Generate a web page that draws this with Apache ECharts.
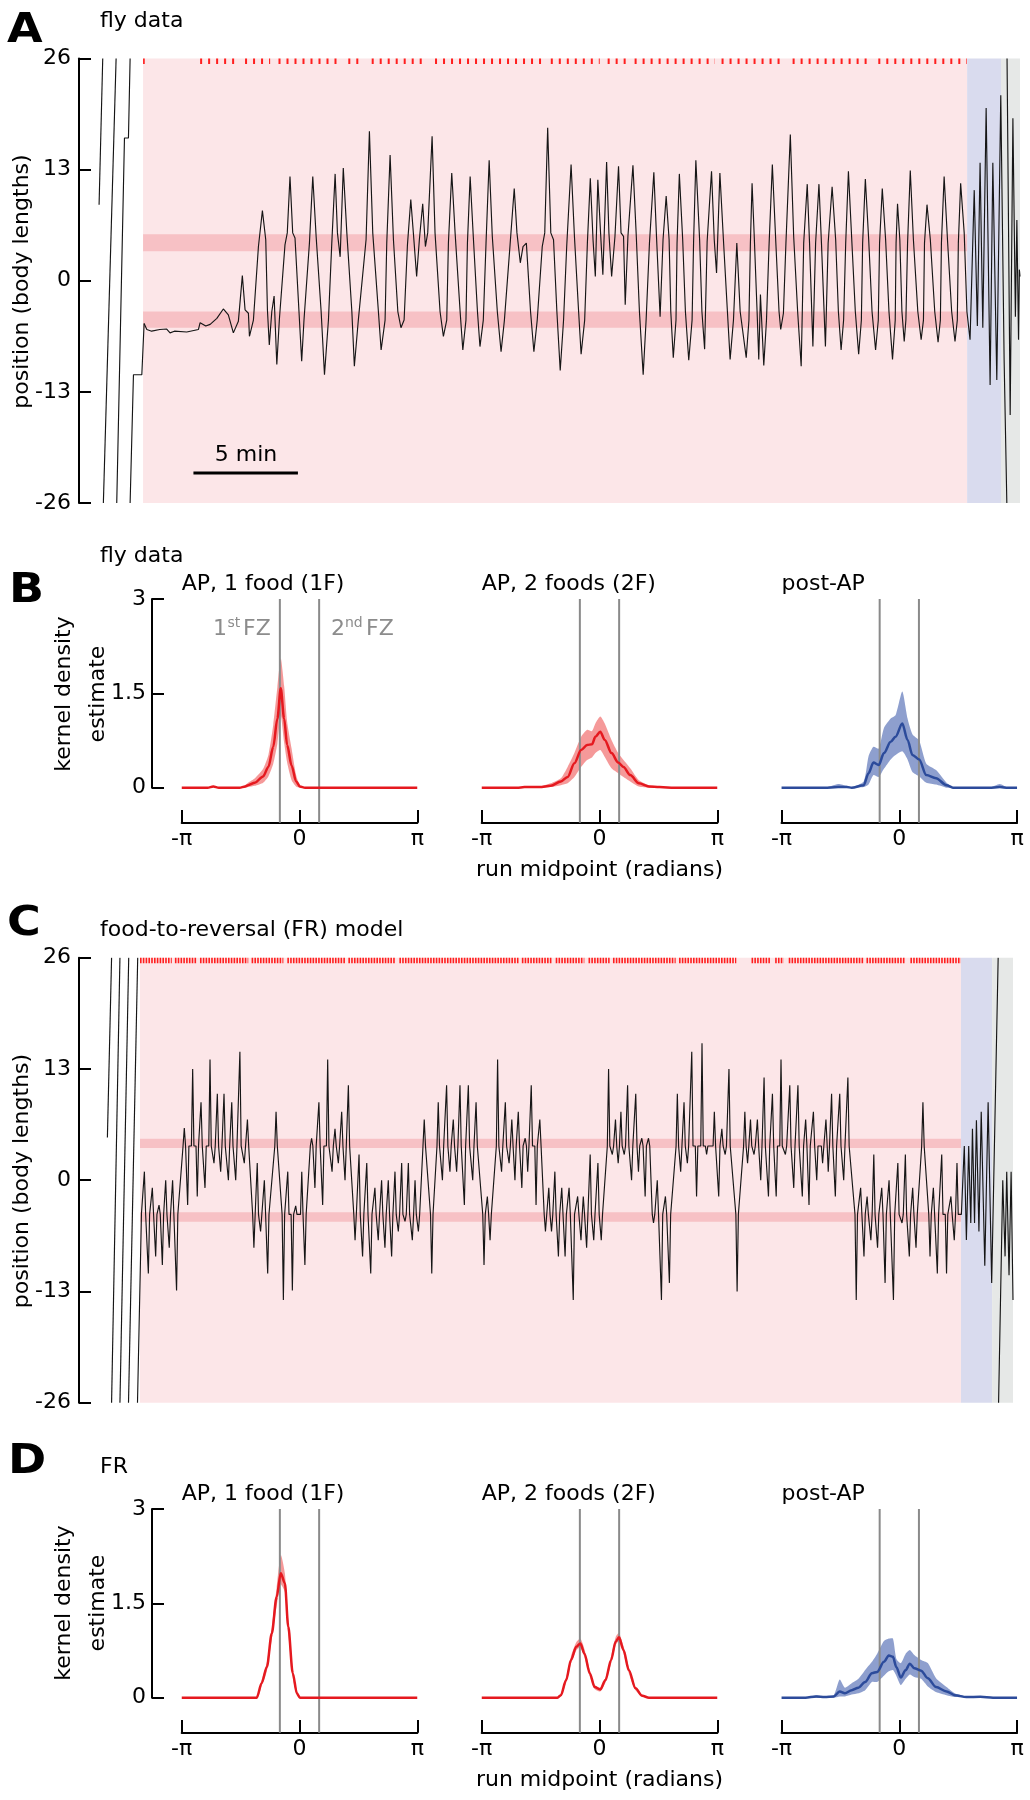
<!DOCTYPE html>
<html><head><meta charset="utf-8">
<script src="https://cdn.jsdelivr.net/npm/echarts@6/dist/echarts.min.js"></script>
<style>html,body{margin:0;padding:0;background:#fff}#c{width:1030px;height:1800px}</style>
</head><body><div id="c"></div>
<script>
// ---------------- DATA ----------------
// Panel A: fly data, time (min), position (body lengths)
const posTicks = [-26, -13, 0, 13, 26];
const flyEpochs = [0, 39.43, 41.05, 41.96];          // AP start, post-AP start, end-phase start, end
const flyBands = [[3.45, 5.45], [-5.5, -3.6]];       // food zones
const flyPreAP = [
  [[-2.105, 8.9], [-1.93, 26]],
  [[-1.90, -26], [-1.29, 26]],
  [[-1.26, -26], [-0.89, 16.7], [-0.70, 16.7], [-0.62, 26]],
  [[-0.62, -26], [-0.46, -11.0], [-0.06, -11.0], [0.05, -5.0]]
];
const flyTrace = [
 [0.05,-5.0],[0.18,-5.7],[0.41,-5.9],[0.80,-5.7],[1.13,-5.65],[1.29,-6.1],[1.50,-5.9],[2.09,-6.0],[2.65,-5.7],[2.73,-4.9],
 [3.00,-5.3],[3.21,-5.1],[3.53,-4.4],[3.84,-3.3],[4.08,-4.0],[4.32,-6.1],[4.56,-4.75],[4.75,0.6],[4.88,-3.4],[5.04,-3.8],
 [5.09,-6.5],[5.28,-4.6],[5.52,4.0],[5.71,8.2],[5.87,4.8],[5.95,-3.4],[6.04,-7.5],[6.16,-3.6],[6.27,-1.8],[6.40,-9.8],
 [6.52,-4.6],[6.79,4.2],[6.90,5.6],[7.03,12.2],[7.16,5.6],[7.27,5.0],[7.46,-3.6],[7.59,-9.4],[7.70,-4.6],[7.96,4.4],
 [8.12,12.2],[8.28,5.2],[8.52,-3.6],[8.68,-11.0],[8.87,-4.6],[9.03,4.4],[9.19,12.5],[9.30,5.6],[9.43,2.8],[9.58,13.2],
 [9.75,5.6],[9.99,-3.6],[10.11,-10.0],[10.30,-4.6],[10.67,4.8],[10.83,17.5],[10.99,5.6],[11.26,-3.6],[11.39,-8.1],[11.58,-4.6],
 [11.66,4.4],[11.82,14.7],[11.98,4.8],[12.19,-3.6],[12.34,-5.5],[12.49,-4.6],[12.65,4.2],[12.81,9.5],[12.97,4.4],[13.09,0.5],
 [13.22,4.8],[13.38,9.0],[13.51,4.0],[13.62,5.6],[13.83,16.9],[13.97,5.6],[14.21,-3.6],[14.37,-6.5],[14.53,-4.6],[14.61,4.4],
 [14.77,12.6],[14.93,5.6],[15.17,-3.6],[15.30,-8.1],[15.45,-4.6],[15.52,4.4],[15.65,12.2],[15.80,5.2],[16.00,-3.6],[16.12,-7.7],
 [16.28,-4.6],[16.41,4.4],[16.56,14.1],[16.71,5.2],[16.95,-3.6],[17.13,-8.3],[17.29,-4.6],[17.56,4.2],[17.76,10.8],[17.89,5.6],
 [18.05,2.1],[18.18,4.0],[18.34,4.4],[18.54,-3.6],[18.70,-8.3],[18.86,-4.6],[19.10,4.0],[19.22,5.6],[19.36,17.9],[19.51,5.6],
 [19.64,4.8],[19.80,-3.6],[19.96,-10.5],[20.12,-4.6],[20.27,4.0],[20.48,13.6],[20.64,5.2],[20.84,-3.6],[20.96,-8.6],[21.13,-4.6],
 [21.26,4.4],[21.40,12.0],[21.53,4.8],[21.64,0.5],[21.76,11.8],[21.89,5.6],[22.00,0.7],[22.18,13.9],[22.29,5.6],[22.42,0.5],
 [22.58,5.2],[22.75,13.4],[22.87,5.6],[22.99,5.2],[23.07,-2.8],[23.20,5.2],[23.44,13.5],[23.60,5.2],[23.75,-3.6],[23.93,-11.0],
 [24.07,-4.6],[24.23,4.4],[24.44,12.7],[24.57,5.0],[24.74,-4.2],[24.88,4.8],[25.03,9.9],[25.17,4.8],[25.25,-3.6],[25.37,-9.0],
 [25.50,-4.6],[25.55,4.4],[25.66,12.5],[25.82,4.8],[25.95,-3.6],[26.11,-9.3],[26.27,-4.6],[26.34,4.4],[26.45,14.1],[26.63,4.8],
 [26.74,-3.6],[26.87,-8.0],[26.99,4.6],[27.20,12.8],[27.33,4.8],[27.44,0.9],[27.60,12.6],[27.76,5.2],[27.96,-3.6],[28.09,-9.2],
 [28.25,-4.6],[28.41,4.4],[28.57,-3.6],[28.86,-9.0],[28.99,-4.6],[29.06,4.4],[29.14,11.4],[29.25,4.8],[29.38,-3.6],[29.46,-9.2],
 [29.54,-1.6],[29.70,-9.9],[29.83,-4.6],[29.95,4.0],[30.11,13.6],[30.27,4.8],[30.43,-3.6],[30.51,-5.7],[30.64,-3.8],[30.76,4.4],
 [30.97,17.1],[31.13,5.2],[31.32,-3.6],[31.49,-10.0],[31.61,4.4],[31.78,11.3],[31.89,4.4],[32.05,-7.7],[32.18,4.4],[32.34,11.3],
 [32.46,4.4],[32.65,-7.7],[32.78,4.4],[32.97,11.0],[33.14,4.8],[33.27,-3.6],[33.40,-8.1],[33.52,-4.6],[33.62,4.4],[33.75,12.8],
 [33.91,4.8],[34.08,-3.6],[34.24,-8.6],[34.37,-4.6],[34.43,4.4],[34.56,11.9],[34.72,4.8],[34.88,-3.6],[35.05,-8.1],[35.18,-4.6],
 [35.24,4.4],[35.37,10.8],[35.53,4.8],[35.69,-3.6],[35.86,-9.2],[35.99,-4.6],[36.03,4.4],[36.10,9.0],[36.21,4.8],[36.31,-3.6],
 [36.42,-7.1],[36.50,-4.6],[36.58,4.4],[36.71,12.9],[36.86,4.8],[37.07,-3.6],[37.23,-6.9],[37.34,-4.6],[37.39,4.4],[37.51,8.9],
 [37.67,4.8],[37.88,-3.6],[38.04,-7.2],[38.15,-4.6],[38.20,4.4],[38.33,12.2],[38.49,4.8],[38.69,-3.6],[38.85,-7.1],[38.96,-4.6],
 [39.01,4.4],[39.12,11.4],[39.29,5.6],[39.42,-3.6],[39.57,-6.9],[39.77,10.6],[39.92,-5.3],[40.05,13.8],[40.18,-5.5],[40.34,20.2],
 [40.53,-12.2],[40.66,13.8],[40.85,-11.6],[41.04,21.7],[41.20,-9.2],[41.33,-26]
];
const flyTail = [[41.34,26],[41.49,-15.7],[41.62,19.0],[41.74,-4.2],[41.81,7.1],[41.89,-6.9],[41.93,1.3],[41.96,0.5]];
const flyFoodRuns = [[0,0.08],[2.73,4.64],[4.88,6.08],[6.48,9.27],[9.82,10.46],[10.94,13.57],[13.97,19.18],[19.51,21.85],
  [22.23,23.23],[23.52,27.36],[27.68,30.68],[31.08,34.80],[35.18,39.42]];
const scaleBarT = [2.41, 7.41], scaleBarY = -22.5;

// Panel C: food-to-reversal model
const frEpochs = [0, 39.28, 40.77, 41.77];
const frBands = [[3.75, 4.85], [-4.85, -3.75]];
const frLevels = {up: 4.0, down: -4.0};
const frPreAP = [
  [[-1.56, 5.0], [-1.36, 26]],
  [[-1.36, -26], [-0.96, 26]],
  [[-0.96, -26], [-0.54, 26]],
  [[-0.55, -26], [-0.11, 26]]
];
const frEntry = [[-0.12, -26], [0.07, -3.9]];
// spikes: [time, tip value, plateau side (+1 upper food, -1 lower food)]
const frSpikes = [
 [0.21,1.0,-1],[0.40,-10.9,-1],[0.59,-0.9,-1],[0.75,-8.9,-1],[0.91,-2.9,-1],[1.07,-9.9,-1],[1.23,0.0,-1],[1.40,-7.9,-1],[1.56,0.0,-1],[1.75,-12.9,-1],
 [2.12,6.1,1],[2.28,-2.9,1],[2.52,13.0,1],[2.74,-1.9,1],[2.92,9.1,1],[3.11,-0.9,1],[3.35,14.1,1],[3.54,2.0,1],[3.70,10.1,1],[3.86,1.0,1],
 [4.02,10.1,1],[4.23,0.0,1],[4.39,9.1,1],[4.58,0.0,1],[4.78,15.0,1],[4.99,2.0,1],[5.14,7.1,1],
 [5.45,-7.9,-1],[5.61,2.0,-1],[5.77,-6.0,-1],[5.95,0.0,-1],[6.11,-10.9,-1],
 [6.51,8.0,1],
 [6.86,-14.0,-1],[7.07,1.0,-1],[7.29,-12.9,-1],[7.45,-3.0,-1],[7.74,1.0,-1],[7.89,-9.9,-1],
 [8.21,4.9,1],[8.37,-0.9,1],[8.56,9.1,1],[8.74,-2.9,1],[8.98,14.1,1],[9.19,1.0,1],[9.33,6.0,1],[9.49,2.0,1],[9.65,8.0,1],[9.81,0.0,1],[9.97,11.1,1],
 [10.29,-7.0,-1],[10.48,3.0,-1],[10.65,-8.9,-1],[10.85,2.0,-1],[11.04,-10.9,-1],[11.24,-0.9,-1],[11.40,-7.0,-1],[11.56,0.0,-1],[11.72,-7.9,-1],
 [11.88,0.0,-1],[12.04,-8.9,-1],[12.20,1.0,-1],[12.36,-6.0,-1],[12.52,2.0,-1],[12.68,-4.8,-1],[12.84,2.0,-1],[13.03,-7.0,-1],[13.16,0.0,-1],[13.32,-6.0,-1],
 [13.60,7.1,1],
 [13.96,-10.9,-1],
 [14.27,9.1,1],[14.47,0.0,1],[14.67,11.1,1],[14.83,1.0,1],[14.99,7.1,1],[15.15,1.0,1],[15.31,11.1,1],[15.52,-2.9,1],[15.71,11.1,1],[15.92,0.0,1],[16.08,9.1,1],
 [16.46,-9.9,-1],[16.62,-1.9,-1],[16.75,-7.0,-1],
 [17.11,14.1,1],[17.30,1.0,1],[17.48,9.1,1],[17.66,2.0,1],[17.79,7.1,1],[17.94,0.0,1],[18.10,8.0,1],[18.27,-0.9,1],[18.43,4.9,1],[18.55,1.0,1],
 [18.72,11.1,1],[18.95,-2.9,1],[19.13,7.1,1],
 [19.40,-6.0,-1],[19.56,-0.9,-1],[19.69,-6.0,-1],[19.85,1.0,-1],[20.02,-8.9,-1],[20.18,-0.9,-1],[20.34,-8.9,-1],[20.53,-0.9,-1],[20.73,-14.0,-1],
 [20.94,-1.9,-1],[21.10,-7.0,-1],[21.21,-1.9,-1],[21.37,-7.9,-1],[21.54,3.0,-1],[21.71,-7.0,-1],[21.91,2.0,-1],[22.07,-7.0,-1],
 [22.42,13.0,1],[22.60,3.0,1],[22.75,7.1,1],[22.88,2.0,1],[23.01,8.0,1],[23.17,3.0,1],[23.33,11.1,1],[23.52,0.0,1],[23.72,10.1,1],[23.85,1.0,1],
 [24.01,4.9,1],[24.17,-1.9,1],[24.33,4.9,1],
 [24.57,-5.0,-1],[24.75,0.0,-1],[24.95,-14.0,-1],[25.14,-1.9,-1],[25.33,-12.0,-1],
 [25.71,10.1,1],[25.87,1.0,1],[26.03,9.1,1],[26.19,2.0,1],[26.40,15.0,1],[26.63,-1.9,1],[26.89,16.0,1],[27.11,3.0,1],[27.48,8.0,1],[27.69,-1.9,1],
 [27.84,6.0,1],[28.00,3.0,1],[28.18,13.0,1],
 [28.57,-13.0,-1],
 [28.94,8.0,1],[29.07,2.0,1],[29.21,7.1,1],[29.38,3.0,1],[29.54,7.1,1],[29.70,0.0,1],[29.86,12.0,1],[30.07,-1.9,1],[30.26,10.1,1],[30.44,-1.9,1],
 [30.67,14.1,1],[30.88,3.0,1],[31.09,11.1,1],[31.28,-0.9,1],[31.48,11.1,1],[31.69,-1.9,1],[31.85,7.1,1],[32.01,-2.9,1],[32.22,8.0,1],[32.38,0.0,1],
 [32.66,2.0,1],[32.82,7.1,1],[32.93,1.0,1],[33.09,10.1,1],[33.27,-1.9,1],[33.48,10.1,1],[33.67,0.0,1],[33.87,12.0,1],
 [34.27,-14.0,-1],[34.48,-0.9,-1],[34.64,-8.9,-1],[34.79,-1.9,-1],[34.97,-7.0,-1],[35.11,3.0,-1],[35.29,-7.9,-1],[35.49,-0.9,-1],[35.65,-12.0,-1],
 [35.84,0.0,-1],[36.05,-14.0,-1],[36.26,2.0,-1],[36.46,-5.0,-1],[36.62,3.0,-1],[36.81,-8.9,-1],[36.97,-0.9,-1],[37.13,-7.9,-1],
 [37.46,9.1,1],
 [37.80,-8.9,-1],[37.96,-0.9,-1],[38.15,-10.9,-1],[38.36,3.0,-1],[38.59,-10.9,-1],[38.80,-1.9,-1],[38.96,-7.0,-1],[39.09,2.0,-1]
];
const frPost = [[39.30,-4.0],[39.44,4.0],[39.54,-7.0],[39.65,4.0],[39.75,-5.0],[39.83,6.0],[39.93,-5.0],[40.02,7.0],[40.14,-6.0],
  [40.25,8.0],[40.42,-10.0],[40.58,9.1],[40.75,-12.0],[41.06,26]];
const frTail = [[41.08,-26],[41.28,0.0],[41.39,-8.9],[41.47,1.0],[41.58,-11.1],[41.68,1.0],[41.77,-14.0]];
const frFoodRuns = [[0,1.52],[1.67,2.71],[2.87,5.18],[5.34,6.86],[7.05,9.81],[9.97,12.20],[12.41,18.11],[18.27,19.73],[19.89,21.26],
  [21.46,22.47],[22.63,25.63],[25.79,28.53],[29.26,30.15],[30.39,30.80],[31.04,34.60],[34.76,36.62],[36.86,39.28]];

// Panels B & D: kernel density of run midpoints (radians)
const foodZoneX = [-0.5236, 0.5236];
const fly1F_x    = [-3.14,-2.45,-2.30,-2.15,-1.60,-1.45,-1.37,-1.19,-0.97,-0.83,-0.70,-0.59,-0.50,-0.41,-0.33,-0.21,-0.09,0.01,0.15,3.14];
const fly1F_mean = [0,0,0.02,0,0,0.02,0.04,0.08,0.18,0.33,0.65,1.10,1.58,1.10,0.68,0.35,0.10,0.02,0,0];
const fly1F_hi   = [0,0,0.03,0,0,0.04,0.08,0.15,0.30,0.52,1.00,1.60,2.06,1.62,1.05,0.62,0.20,0.04,0,0];
const fly1F_lo   = [0,0,0.01,0,0,0,0.01,0.03,0.08,0.18,0.38,0.70,1.15,0.72,0.40,0.12,0.02,0,0,0];

const fly2F_x    = [-3.14,-2.2,-2.0,-1.6,-1.30,-1.03,-0.85,-0.67,-0.49,-0.33,-0.20,-0.11,0.02,0.14,0.32,0.50,0.64,0.82,1.05,1.32,1.6,2.0,3.14];
const fly2F_mean = [0,0,0.01,0.01,0.03,0.10,0.17,0.39,0.60,0.68,0.69,0.81,0.89,0.76,0.55,0.40,0.33,0.20,0.07,0.02,0.01,0,0];
const fly2F_hi   = [0,0,0.02,0.02,0.07,0.15,0.33,0.55,0.81,0.92,0.90,1.02,1.13,1.02,0.76,0.55,0.44,0.31,0.12,0.04,0.02,0.01,0];
const fly2F_lo   = [0,0,0,0,0.01,0.04,0.07,0.17,0.33,0.44,0.48,0.55,0.60,0.49,0.31,0.23,0.17,0.10,0.02,0,0,0,0];

const flyPost_x    = [-3.14,-2.0,-1.63,-1.4,-1.27,-0.95,-0.82,-0.69,-0.55,-0.41,-0.23,-0.10,0.08,0.22,0.35,0.53,0.72,0.98,1.26,1.43,2.4,2.68,2.9,3.14];
const flyPost_mean = [0,0,0.01,0.01,0,0.04,0.23,0.40,0.36,0.55,0.73,0.81,1.02,0.76,0.52,0.45,0.20,0.15,0.04,0,0,0.01,0,0];
const flyPost_hi   = [0,0,0.06,0.03,0.01,0.10,0.50,0.65,0.62,0.95,1.10,1.15,1.53,1.10,0.85,0.75,0.38,0.28,0.08,0.01,0,0.06,0,0];
const flyPost_lo   = [0,0,0,0,0,0.01,0.05,0.20,0.17,0.30,0.45,0.52,0.58,0.45,0.25,0.18,0.08,0.05,0,0,0,0,0,0];

const fr1F_x    = [-3.14,-1.14,-1.01,-0.87,-0.74,-0.61,-0.50,-0.39,-0.30,-0.18,-0.07,0.01,3.14];
const fr1F_mean = [0,0,0.23,0.49,1.02,1.60,1.98,1.82,1.13,0.39,0.07,0,0];
const fr1F_hi   = [0,0.01,0.28,0.56,1.12,1.75,2.27,1.98,1.25,0.47,0.11,0.01,0];
const fr1F_lo   = [0,0,0.19,0.42,0.92,1.45,1.80,1.68,1.02,0.32,0.04,0,0];

const fr2F_x    = [-3.14,-1.12,-1.03,-0.89,-0.76,-0.62,-0.51,-0.40,-0.26,-0.13,0.02,0.16,0.31,0.43,0.52,0.64,0.78,0.96,1.14,1.32,3.14];
const fr2F_mean = [0,0,0.04,0.28,0.60,0.81,0.86,0.70,0.39,0.17,0.13,0.28,0.60,0.89,0.96,0.76,0.44,0.15,0.03,0,0];
const fr2F_hi   = [0,0.01,0.06,0.32,0.66,0.88,0.94,0.77,0.44,0.21,0.16,0.32,0.66,0.96,1.03,0.82,0.49,0.18,0.05,0.01,0];
const fr2F_lo   = [0,0,0.02,0.24,0.54,0.75,0.80,0.64,0.34,0.14,0.10,0.24,0.54,0.83,0.90,0.70,0.39,0.12,0.02,0,0];

const frPost_x    = [-3.14,-2.5,-2.22,-1.99,-1.75,-1.59,-1.45,-1.27,-1.09,-0.91,-0.73,-0.59,-0.41,-0.28,-0.17,-0.08,0.04,0.17,0.28,0.40,0.58,0.76,0.98,1.26,1.48,1.79,2.16,2.5,3.14];
const frPost_mean = [0,0,0.02,0.01,0.02,0.10,0.07,0.12,0.16,0.25,0.39,0.41,0.57,0.67,0.65,0.49,0.32,0.44,0.54,0.47,0.43,0.31,0.17,0.10,0.04,0.01,0.015,0,0];
const frPost_hi   = [0,0,0.04,0.02,0.04,0.29,0.16,0.23,0.30,0.44,0.57,0.70,0.90,0.94,0.94,0.62,0.55,0.70,0.76,0.68,0.60,0.55,0.31,0.17,0.07,0.02,0.02,0,0];
const frPost_lo   = [0,0,0,0,0,0.02,0.02,0.05,0.07,0.12,0.25,0.25,0.35,0.42,0.44,0.35,0.20,0.30,0.37,0.33,0.30,0.18,0.09,0.04,0.01,0,0,0,0];

const kdeTicks = ['-π', '0', 'π'];
const kdeTitles = ['AP, 1 food (1F)', 'AP, 2 foods (2F)', 'post-AP'];

// ---------------- STYLE / LAYOUT ----------------
const FONT = '"DejaVu Sans", sans-serif';
const f = (s, b) => (b ? 'bold ' : '') + s + 'px ' + FONT;
const RED = '#e5191f', RED_BAND = 'rgba(236,70,70,0.55)';
const BLUE = '#2c4b9b', BLUE_BAND = 'rgba(50,80,165,0.55)';
const EPOCH_COLORS = ['#fce6e8', '#d9dbee', '#e6e8e7', '#f7c1c5'];
const kdeLeft = [181.7, 481.7, 781.5];
const KW = 235.6, KH = 188.7;

const grids = [
  {left: 95, top: 58.5, width: 925, height: 444.5},
  {left: kdeLeft[0], top: 599, width: KW, height: KH},
  {left: kdeLeft[1], top: 599, width: KW, height: KH},
  {left: kdeLeft[2], top: 599, width: KW, height: KH},
  {left: 95, top: 957.7, width: 918, height: 445},
  {left: kdeLeft[0], top: 1509, width: KW, height: KH},
  {left: kdeLeft[1], top: 1509, width: KW, height: KH},
  {left: kdeLeft[2], top: 1509, width: KW, height: KH}
];

const axLine = {show: true, onZero: false, lineStyle: {color: '#000', width: 2}};
function timeX(gi, min, max) { return {gridIndex: gi, type: 'value', min: min, max: max, show: false, axisLine: {onZero: false}}; }
function posY(gi) {
  return {gridIndex: gi, type: 'value', min: posTicks[0], max: posTicks[posTicks.length-1], interval: 13, offset: 16, position: 'left',
    axisLine: axLine, axisTick: {show: true, inside: true, length: 12, lineStyle: {color: '#000', width: 2}},
    axisLabel: {color: '#000', fontFamily: FONT, fontSize: 22, margin: 8}, splitLine: {show: false}};
}
function kdeX(gi) {
  return {gridIndex: gi, type: 'value', min: -Math.PI, max: Math.PI, interval: Math.PI, offset: 35, position: 'bottom',
    axisLine: axLine, axisTick: {show: true, inside: true, length: 12.7, lineStyle: {color: '#000', width: 2}},
    axisLabel: {color: '#000', fontFamily: FONT, fontSize: 22, margin: 6, showMinLabel: true, showMaxLabel: true,
      formatter: v => v < -1 ? kdeTicks[0] : (v > 1 ? kdeTicks[2] : kdeTicks[1])},
    splitLine: {show: false}};
}
function kdeY(gi, show) {
  return {gridIndex: gi, type: 'value', min: 0, max: 3, interval: 1.5, offset: 29.7, show: show, position: 'left',
    axisLine: axLine, axisTick: {show: true, inside: true, length: 12, lineStyle: {color: '#000', width: 2}},
    axisLabel: {color: '#000', fontFamily: FONT, fontSize: 22, margin: 6}, splitLine: {show: false}};
}

const xAxes = [timeX(0, -2.30, 41.96), kdeX(1), kdeX(2), kdeX(3), timeX(4, -2.153, 41.77), kdeX(5), kdeX(6), kdeX(7)];
const yAxes = [posY(0), kdeY(1, true), kdeY(2, false), kdeY(3, false), posY(4), kdeY(5, true), kdeY(6, false), kdeY(7, false)];

// ---------------- SERIES BUILDERS ----------------
function rectSeries(ai, rows) {
  return {type: 'custom', xAxisIndex: ai, yAxisIndex: ai, z: 1, clip: false, silent: true,
    data: rows, encode: {x: [0, 1], y: [2, 3]},
    renderItem: (p, api) => {
      const a = api.coord([api.value(0), api.value(3)]);
      const b = api.coord([api.value(1), api.value(2)]);
      return {type: 'rect', shape: {x: a[0], y: a[1], width: b[0] - a[0], height: b[1] - a[1]},
        style: {fill: EPOCH_COLORS[api.value(4)]}};
    }};
}
function traceSeries(ai, pts, z) {
  return {type: 'line', xAxisIndex: ai, yAxisIndex: ai, data: pts, symbol: 'none', z: z || 3, silent: true,
    lineStyle: {color: '#161616', width: 1.15}};
}
function foodTickSeries(ai, runs, dash) {
  return {type: 'custom', xAxisIndex: ai, yAxisIndex: ai, z: 4, clip: false, silent: true,
    data: runs.map(r => [r[0], r[1], posTicks[posTicks.length-1]]), encode: {x: [0, 1], y: 2},
    renderItem: (p, api) => {
      const a = api.coord([api.value(0), api.value(2)]);
      const b = api.coord([api.value(1), api.value(2)]);
      return {type: 'line', shape: {x1: a[0], y1: a[1] + 2.8, x2: b[0], y2: b[1] + 2.8},
        style: {stroke: '#ff1e1e', lineWidth: 5.5, lineDash: dash, lineCap: 'butt'}};
    }};
}
function bandSeries(ai, xs, lo, hi, color) {
  return {type: 'custom', xAxisIndex: ai, yAxisIndex: ai, z: 2, clip: false, silent: true,
    data: [[xs[0], 0]], encode: {x: 0, y: 1},
    renderItem: (p, api) => {
      const pts = [];
      for (let i = 0; i < xs.length; i++) pts.push(api.coord([xs[i], hi[i]]));
      for (let i = xs.length - 1; i >= 0; i--) pts.push(api.coord([xs[i], lo[i]]));
      return {type: 'polygon', shape: {points: pts, smooth: 0.2}, style: {fill: color}};
    }};
}
function fzSeries(ai) {
  return {type: 'custom', xAxisIndex: ai, yAxisIndex: ai, z: 3, clip: false, silent: true,
    data: foodZoneX.map(x => [x, 3]), encode: {x: 0, y: 1},
    renderItem: (p, api) => {
      const a = api.coord([api.value(0), api.value(1)]);
      const b = api.coord([api.value(0), 0]);
      return {type: 'line', shape: {x1: a[0], y1: a[1], x2: b[0], y2: b[1] + 35},
        style: {stroke: '#8a8a8a', lineWidth: 2}};
    }};
}
function meanSeries(ai, xs, ys, color) {
  return {type: 'line', xAxisIndex: ai, yAxisIndex: ai, z: 4, silent: true, symbol: 'none',
    smooth: 0.3, smoothMonotone: 'x',
    data: xs.map((x, i) => [x, ys[i]]), lineStyle: {color: color, width: 2.5}};
}

// build FR model trace from spike table
function frBuild() {
  const w = 0.06, pts = [...frEntry];
  frSpikes.forEach(s => {
    const L = s[2] > 0 ? frLevels.up : frLevels.down;
    pts.push([s[0] - w, L], [s[0], s[1]], [s[0] + w, L]);
  });
  return pts.concat(frPost);
}

const series = [];
// Panel A
series.push(rectSeries(0, [
  [flyEpochs[0], flyEpochs[1], -26, 26, 0], [flyEpochs[1], flyEpochs[2], -26, 26, 1], [flyEpochs[2], flyEpochs[3], -26, 26, 2],
  [flyEpochs[0], flyEpochs[1], flyBands[0][0], flyBands[0][1], 3], [flyEpochs[0], flyEpochs[1], flyBands[1][0], flyBands[1][1], 3]]));
flyPreAP.forEach(s => series.push(traceSeries(0, s)));
series.push(traceSeries(0, flyTrace));
series.push(traceSeries(0, flyTail));
series.push(foodTickSeries(0, flyFoodRuns, [2, 6]));
series.push({type: 'line', xAxisIndex: 0, yAxisIndex: 0, symbol: 'none', z: 5, silent: true,
  data: scaleBarT.map(t => [t, scaleBarY]), lineStyle: {color: '#000', width: 3}});
// Panel C
series.push(rectSeries(4, [
  [frEpochs[0], frEpochs[1], -26, 26, 0], [frEpochs[1], frEpochs[2], -26, 26, 1], [frEpochs[2], frEpochs[3], -26, 26, 2],
  [frEpochs[0], frEpochs[1], frBands[0][0], frBands[0][1], 3], [frEpochs[0], frEpochs[1], frBands[1][0], frBands[1][1], 3]]));
frPreAP.forEach(s => series.push(traceSeries(4, s)));
series.push(traceSeries(4, frBuild()));
series.push(traceSeries(4, frTail));
series.push(foodTickSeries(4, frFoodRuns, [1.6, 1.2]));
// KDE panels
const kdeSets = [
  [1, fly1F_x, fly1F_mean, fly1F_lo, fly1F_hi, RED, RED_BAND],
  [2, fly2F_x, fly2F_mean, fly2F_lo, fly2F_hi, RED, RED_BAND],
  [3, flyPost_x, flyPost_mean, flyPost_lo, flyPost_hi, BLUE, BLUE_BAND],
  [5, fr1F_x, fr1F_mean, fr1F_lo, fr1F_hi, RED, RED_BAND],
  [6, fr2F_x, fr2F_mean, fr2F_lo, fr2F_hi, RED, RED_BAND],
  [7, frPost_x, frPost_mean, frPost_lo, frPost_hi, BLUE, BLUE_BAND]
];
kdeSets.forEach(k => {
  series.push(bandSeries(k[0], k[1], k[3], k[4], k[6]));
  series.push(fzSeries(k[0]));
  series.push(meanSeries(k[0], k[1], k[2], k[5]));
});

// ---------------- TEXT ----------------
function T(text, x, y, o) {
  o = o || {};
  return {type: 'text', x: x, y: y, rotation: o.rot || 0, scaleX: o.sx || 1, z: 100, silent: true,
    style: {text: text, font: o.font || f(22), fill: o.fill || '#000', textAlign: o.align || 'left', textVerticalAlign: 'middle'}};
}
const GRAY = '#8c8c8c';
const LETTER = {font: f(40, true), sx: 1.15};
const texts = [
  T('A', 7, 31.5, LETTER),
  T('fly data', 100, 21.5),
  T('position (body lengths)', 22, 281.5, {rot: Math.PI / 2, align: 'center'}),
  T('5 min', 246, 455.7, {align: 'center'}),
  T('B', 9, 591.5, LETTER),
  T('fly data', 100, 556.5),
  T('kernel density', 64, 694, {rot: Math.PI / 2, align: 'center'}),
  T('estimate', 98, 694, {rot: Math.PI / 2, align: 'center'}),
  T('run midpoint (radians)', 599.5, 870.7, {align: 'center'}),
  T('1', 213, 629.1, {fill: GRAY}), T('st', 227.5, 623.2, {fill: GRAY, font: f(14)}), T('FZ', 243, 629.1, {fill: GRAY}),
  T('2', 331, 629.1, {fill: GRAY}), T('nd', 345, 623.2, {fill: GRAY, font: f(14)}), T('FZ', 366, 629.1, {fill: GRAY}),
  T('C', 7, 925, LETTER),
  T('food-to-reversal (FR) model', 100, 930),
  T('position (body lengths)', 22, 1181, {rot: Math.PI / 2, align: 'center'}),
  T('D', 8, 1462.5, LETTER),
  T('FR', 100, 1467),
  T('kernel density', 64, 1603, {rot: Math.PI / 2, align: 'center'}),
  T('estimate', 98, 1603, {rot: Math.PI / 2, align: 'center'}),
  T('run midpoint (radians)', 599.5, 1780.7, {align: 'center'})
];
kdeTitles.forEach((t, i) => { texts.push(T(t, kdeLeft[i], 584.1)); texts.push(T(t, kdeLeft[i], 1494.1)); });

const chart = echarts.init(document.getElementById('c'), null, {renderer: 'canvas', width: 1030, height: 1800});
chart.setOption({
  animation: false,
  backgroundColor: '#fff',
  grid: grids,
  xAxis: xAxes,
  yAxis: yAxes,
  series: series,
  graphic: {elements: texts}
});
</script></body></html>
